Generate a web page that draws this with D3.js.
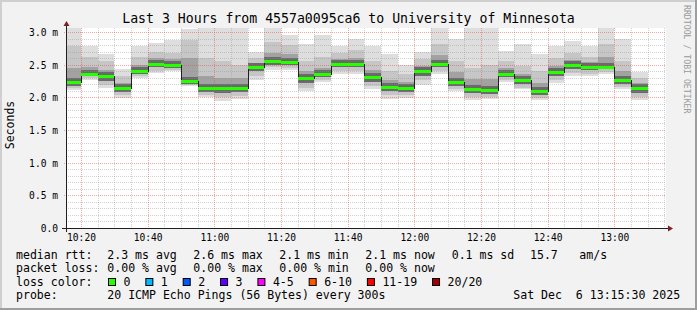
<!DOCTYPE html>
<html>
<head>
<meta charset="utf-8">
<script src="https://cdn.jsdelivr.net/npm/d3@7"></script>
<style>
    body { margin: 0; background: #f2f2f2; }
    svg text { font-family: "DejaVu Sans Mono", monospace; white-space: pre; fill: #000; }
</style>
</head>
<body>
<div id="chart"></div>
<script>
// graph window
const graphStart = "10:15:30"
const graphEnd = "13:15:30"
const yTop = 3.061

// 5 minute steps (end time of each step, first one is partial)
const stepEnds = ["10:20","10:25","10:30","10:35","10:40","10:45","10:50","10:55",
                  "11:00","11:05","11:10","11:15","11:20","11:25","11:30","11:35",
                  "11:40","11:45","11:50","11:55","12:00","12:05","12:10","12:15",
                  "12:20","12:25","12:30","12:35","12:40","12:45","12:50","12:55",
                  "13:00","13:05","13:10"]

// rtt in ms
const medianRtt = [2.24,2.36,2.32,2.14,2.41,2.51,2.49,2.25,2.14,2.14,2.15,2.47,2.55,2.54,2.29,2.36,2.51,2.51,
                   2.31,2.16,2.14,2.40,2.51,2.24,2.13,2.11,2.36,2.26,2.10,2.39,2.49,2.47,2.47,2.27,2.14]
const minRtt    = [2.11,2.27,2.14,1.99,2.30,2.37,2.40,2.17,2.01,1.95,1.97,2.27,2.42,2.42,2.09,2.24,2.35,2.35,
                   2.13,1.97,1.99,2.19,2.35,2.09,1.96,1.97,2.23,2.12,1.96,2.22,2.32,2.32,2.35,2.12,1.96]
const maxRtt    = [3.08,2.79,2.67,2.44,2.79,2.83,2.87,3.05,3.08,3.08,3.08,2.70,3.08,2.96,2.82,2.95,2.79,2.89,
                   2.78,2.66,2.50,2.70,3.07,2.89,3.08,3.08,2.71,2.81,2.66,2.79,2.86,2.79,3.08,2.90,2.39]
const lowRtt    = [2.14,2.29,2.19,2.03,2.33,2.41,2.42,2.19,2.04,2.01,2.02,2.33,2.46,2.45,2.15,2.27,2.40,2.40,
                   2.18,2.03,2.03,2.26,2.40,2.13,2.00,2.00,2.27,2.15,1.99,2.26,2.37,2.36,2.39,2.16,2.01]
const highRtt   = [2.78,2.62,2.55,2.32,2.62,2.70,2.68,2.88,2.60,2.55,2.50,2.60,2.85,2.80,2.55,2.62,2.68,2.72,
                   2.55,2.40,2.35,2.58,2.82,2.55,2.45,2.50,2.55,2.48,2.40,2.60,2.68,2.62,2.82,2.55,2.30]
const q1Rtt     = [2.18,2.32,2.25,2.08,2.36,2.46,2.45,2.21,2.08,2.07,2.08,2.40,2.50,2.49,2.22,2.31,2.46,2.46,
                   2.24,2.09,2.08,2.33,2.46,2.18,2.06,2.05,2.31,2.20,2.04,2.32,2.43,2.42,2.43,2.21,2.07]
const q3Rtt     = [2.45,2.46,2.42,2.22,2.50,2.60,2.58,2.60,2.32,2.30,2.30,2.53,2.68,2.66,2.40,2.45,2.58,2.60,
                   2.42,2.27,2.24,2.48,2.65,2.38,2.28,2.28,2.45,2.36,2.22,2.48,2.57,2.54,2.62,2.40,2.22]

// axis labels
const yLabelValues = [0, 0.5, 1.0, 1.5, 2.0, 2.5, 3.0]

// legend
const title = "Last 3 Hours from 4557a0095ca6 to University of Minnesota"
const rttStats = ["2.3 ms avg", "2.6 ms max", "2.1 ms min", "2.1 ms now", "0.1 ms sd", "15.7", "am/s"]
const lossStats = ["0.00 % avg", "0.00 % max", "0.00 % min", "0.00 % now"]
const lossLabels = ["0", "1", "2", "3", "4-5", "6-10", "11-19", "20/20"]
const lossColors = ["#26ff00", "#00b8ff", "#0059ff", "#5e00ff", "#ff00ff", "#ff5500", "#ff0000", "#a10000"]
const probeText = "20 ICMP Echo Pings (56 Bytes) every 300s"
const stampText = "Sat Dec  6 13:15:30 2025"

buildChart()

function buildChart() {
    const W = 697, H = 310
    const plot = {left: 66, right: 666, top: 28, bottom: 228}

    let svg = d3.select("#chart")
                .append("svg")
                    .attr("width", W)
                    .attr("height", H)

    // frame
    svg.append("rect").attr("width", W).attr("height", H).attr("fill", "#f2f2f2")
    svg.append("path").attr("d", `M0,0H${W}V2H2V${H}H0Z`).attr("fill", "#cfcfcf")
    svg.append("path").attr("d", `M${W},${H}H0V${H - 2}H${W - 2}V0H${W}Z`).attr("fill", "#9e9e9e")
    svg.append("rect")
        .attr("x", plot.left).attr("y", plot.top)
        .attr("width", plot.right - plot.left).attr("height", plot.bottom - plot.top)
        .attr("fill", "#ffffff")

    let parseHM = d3.timeParse("%H:%M")
    let parseHMS = d3.timeParse("%H:%M:%S")

    let x = d3.scaleTime()
                .domain([parseHMS(graphStart), parseHMS(graphEnd)])
                .range([plot.left, plot.right])
    let y = d3.scaleLinear()
                .domain([0, yTop])
                .range([plot.bottom, plot.top])

    let steps = stepEnds.map((t, i) => ({
        start: i == 0 ? parseHMS(graphStart) : parseHM(stepEnds[i - 1]),
        end: parseHM(t),
        med: medianRtt[i], min: minRtt[i], max: maxRtt[i],
        low: lowRtt[i], high: highRtt[i], q1: q1Rtt[i], q3: q3Rtt[i]
    }))

    svg.append("clipPath").attr("id", "clip")
        .append("rect")
            .attr("x", plot.left).attr("y", plot.top)
            .attr("width", plot.right - plot.left).attr("height", plot.bottom - plot.top)

    // smoke
    let smoke = svg.append("g").attr("clip-path", "url(#clip)")
    let layers = [
        {lo: "min", hi: "max", color: "#dedede"},
        {lo: "low", hi: "high", color: "#c6c6c6"},
        {lo: "q1", hi: "q3", color: "#a2a2a2"}
    ]
    layers.forEach(layer => {
        smoke.selectAll(null)
            .data(steps)
            .enter().append("rect")
                .attr("x", d => Math.round(x(d.start)))
                .attr("width", d => Math.round(x(d.end)) - Math.round(x(d.start)))
                .attr("y", d => Math.round(y(d[layer.hi])))
                .attr("height", d => Math.round(y(d[layer.lo])) - Math.round(y(d[layer.hi])))
                .attr("fill", layer.color)
    })
    // dark core around the median
    smoke.selectAll(null)
        .data(steps)
        .enter().append("rect")
            .attr("x", d => Math.round(x(d.start)))
            .attr("width", d => Math.round(x(d.end)) - Math.round(x(d.start)))
            .attr("y", d => Math.max(Math.round(y(d.q3)), Math.round(y(d.med)) - 4))
            .attr("height", d => Math.min(Math.round(y(d.q1)), Math.round(y(d.med)) + 5)
                                 - Math.max(Math.round(y(d.q3)), Math.round(y(d.med)) - 4))
            .attr("fill", "#6a6a6a")

    // grid
    let grid = svg.append("g")
                    .attr("fill", "none")
                    .attr("stroke-dasharray", "1,1")
                    .attr("shape-rendering", "crispEdges")
    let crisp = v => Math.round(v) + 0.5

    grid.selectAll(null)
        .data(y.ticks(30).filter(v => Math.abs(v * 2 - Math.round(v * 2)) > 1e-6))
        .enter().append("line")
            .attr("x1", plot.left).attr("x2", plot.right)
            .attr("y1", d => crisp(y(d))).attr("y2", d => crisp(y(d)))
            .attr("stroke", "#8f8f8f").attr("stroke-opacity", 0.4)
    grid.selectAll(null)
        .data(x.ticks(d3.timeMinute.every(5)).filter(t => t.getMinutes() % 20 != 0))
        .enter().append("line")
            .attr("y1", plot.top).attr("y2", plot.bottom)
            .attr("x1", d => crisp(x(d))).attr("x2", d => crisp(x(d)))
            .attr("stroke", "#8f8f8f").attr("stroke-opacity", 0.4)
    grid.selectAll(null)
        .data(yLabelValues.filter(v => v > 0))
        .enter().append("line")
            .attr("x1", plot.left - 2).attr("x2", plot.right)
            .attr("y1", d => crisp(y(d))).attr("y2", d => crisp(y(d)))
            .attr("stroke", "#de4f4f").attr("stroke-opacity", 0.5)
    grid.selectAll(null)
        .data(x.ticks(d3.timeMinute.every(20)))
        .enter().append("line")
            .attr("y1", plot.top).attr("y2", plot.bottom + 2)
            .attr("x1", d => crisp(x(d))).attr("x2", d => crisp(x(d)))
            .attr("stroke", "#de4f4f").attr("stroke-opacity", 0.5)

    // median line
    let stepLine = d3.line()
                    .x(d => Math.round(x(d.t)))
                    .y(d => crisp(y(d.v)))
                    .curve(d3.curveStepAfter)
    let pts = steps.map(d => ({t: d.start, v: d.med}))
    pts.push({t: steps[steps.length - 1].end, v: steps[steps.length - 1].med})
    svg.append("path")
        .attr("d", stepLine(pts))
        .attr("fill", "none")
        .attr("stroke", "#202020")
        .attr("stroke-width", 1)
        .attr("shape-rendering", "crispEdges")
    svg.append("g").selectAll("rect")
        .data(steps)
        .enter().append("rect")
            .attr("x", d => Math.round(x(d.start)))
            .attr("width", d => Math.round(x(d.end)) - Math.round(x(d.start)))
            .attr("y", d => Math.round(y(d.med)) - 1)
            .attr("height", 3)
            .attr("fill", lossColors[0])

    // axes
    let axisCol = "#1f1f1f", arrowCol = "#801f1f"
    let ox = plot.left + 0.5, oy = plot.bottom + 0.5
    svg.append("line")
        .attr("x1", plot.left - 4).attr("x2", plot.right + 4)
        .attr("y1", oy).attr("y2", oy)
        .attr("stroke", axisCol)
    svg.append("line")
        .attr("x1", ox).attr("x2", ox)
        .attr("y1", plot.bottom + 4).attr("y2", plot.top - 4)
        .attr("stroke", axisCol)
    svg.append("path")
        .attr("d", `M${plot.right + 2},${oy - 3}L${plot.right + 2},${oy + 3}L${plot.right + 7},${oy}Z`)
        .attr("fill", arrowCol)
    svg.append("path")
        .attr("d", `M${ox - 3},${plot.top - 2}L${ox + 3},${plot.top - 2}L${ox},${plot.top - 7}Z`)
        .attr("fill", arrowCol)

    let xAxis = d3.axisBottom(x)
                    .ticks(d3.timeMinute.every(20))
                    .tickFormat(d3.timeFormat("%H:%M"))
                    .tickSize(0)
                    .tickPadding(0)
    let gx = svg.append("g")
                .attr("transform", `translate(0, ${plot.bottom})`)
                .call(xAxis)
    gx.select(".domain").remove()
    gx.selectAll("text")
        .attr("y", 13)
        .attr("dy", null)
        .style("font-size", "9.6px")
        .style("font-family", "DejaVu Sans Mono")

    let yAxis = d3.axisLeft(y)
                    .tickValues(yLabelValues)
                    .tickFormat(v => v == 0 ? "0.0" : d3.format(".1f")(v) + " m")
                    .tickSize(0)
                    .tickPadding(8)
    let gy = svg.append("g")
                .attr("transform", `translate(${plot.left}, 0)`)
                .call(yAxis)
    gy.select(".domain").remove()
    gy.selectAll("text")
        .attr("dy", "0.35em")
        .style("font-size", "9.6px")
        .style("font-family", "DejaVu Sans Mono")

    // titles
    svg.append("text")
        .attr("x", W / 2).attr("y", 23)
        .attr("text-anchor", "middle")
        .style("font-size", "13.2px")
        .text(title)
    svg.append("text")
        .attr("transform", "translate(14, 125) rotate(-90)")
        .attr("text-anchor", "middle")
        .style("font-size", "11.5px")
        .text("Seconds")
    svg.append("text")
        .attr("transform", "translate(683.5, 5) rotate(90)")
        .style("font-size", "8.2px")
        .style("fill", "#9a9a9a")
        .text("RRDTOOL / TOBI OETIKER")

    // legend
    let legend = svg.append("g").style("font-size", "11.55px")
    let rows = [258.5, 272, 285.5, 299]
    let col0 = 16, col1 = 107.3
    let rttX = [107.3, 193.3, 279.3, 365.3, 451.7, 530, 579.3]

    legend.append("text").attr("x", col0).attr("y", rows[0]).text("median rtt:")
    legend.selectAll(null)
        .data(rttStats)
        .enter().append("text")
            .attr("x", (d, i) => rttX[i]).attr("y", rows[0])
            .text(d => d)

    legend.append("text").attr("x", col0).attr("y", rows[1]).text("packet loss:")
    legend.selectAll(null)
        .data(lossStats)
        .enter().append("text")
            .attr("x", (d, i) => rttX[i]).attr("y", rows[1])
            .text(d => d)

    legend.append("text").attr("x", col0).attr("y", rows[2]).text("loss color:")
    let bx = 108.5
    lossLabels.forEach((label, i) => {
        legend.append("rect")
            .attr("x", bx).attr("y", 278.5)
            .attr("width", 7).attr("height", 7)
            .attr("fill", lossColors[i])
            .attr("stroke", "#000")
        let t = legend.append("text")
                    .attr("x", bx + 15).attr("y", rows[2])
                    .text(label)
        bx = bx + 15 + t.node().getComputedTextLength() + 15.4
    })

    legend.append("text").attr("x", col0).attr("y", rows[3]).text("probe:")
    legend.append("text").attr("x", col1).attr("y", rows[3]).text(probeText)
    legend.append("text").attr("x", 513.3).attr("y", rows[3]).text(stampText)
}
</script>
</body>
</html>
